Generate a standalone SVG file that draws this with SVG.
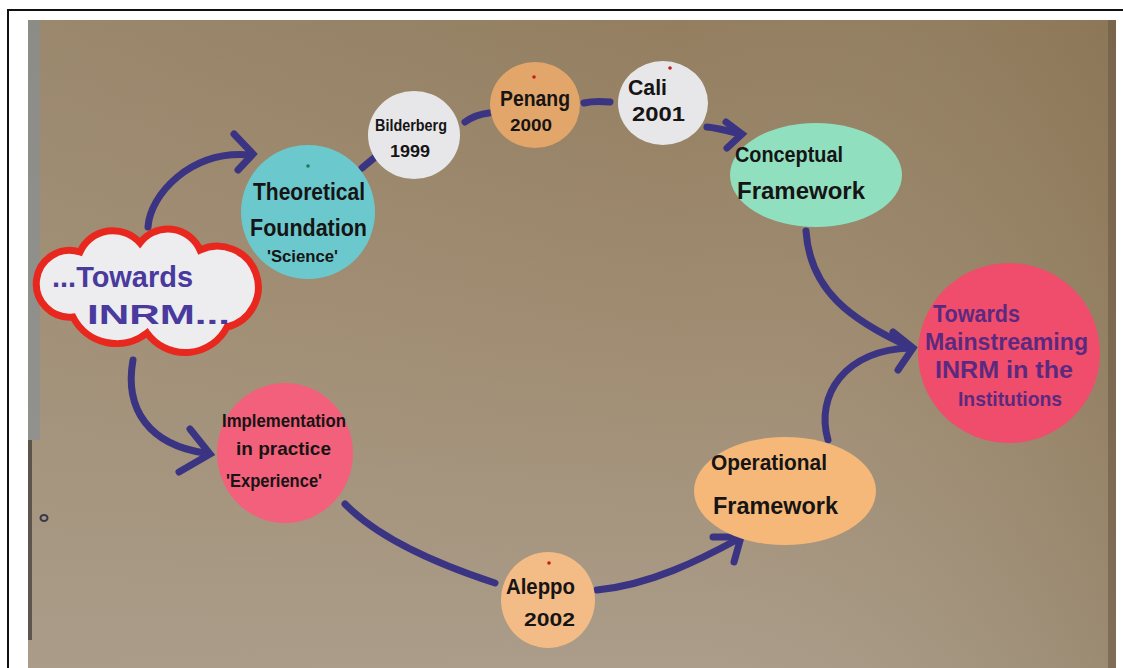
<svg xmlns="http://www.w3.org/2000/svg" width="1123" height="668" viewBox="0 0 1123 668">
  <defs>
    <style>
      .ink { font-family: "Liberation Sans", Arial, sans-serif; font-weight: bold; fill: #161414; }
      .blue { font-family: "Liberation Sans", Arial, sans-serif; font-weight: bold; fill: #4a3a9e; }
      .purple { font-family: "Liberation Sans", Arial, sans-serif; font-weight: bold; fill: #5b2a80; }
      .edge { fill: none; stroke: #3b3482; stroke-width: 7; stroke-linecap: round; stroke-linejoin: round; }
      .head { fill: none; stroke: #3b3482; stroke-width: 7; stroke-linecap: round; stroke-linejoin: miter; }
    </style>
    <linearGradient id="paper" x1="0" y1="0" x2="0" y2="1">
      <stop offset="0" stop-color="#937e60"/>
      <stop offset="0.45" stop-color="#9f8b70"/>
      <stop offset="1" stop-color="#ab9d8a"/>
    </linearGradient>
    <linearGradient id="paperSide" x1="0" y1="0" x2="1" y2="0">
      <stop offset="0" stop-color="#a89a86" stop-opacity="0.35"/>
      <stop offset="0.6" stop-color="#a89a86" stop-opacity="0"/>
      <stop offset="1" stop-color="#7d6845" stop-opacity="0.35"/>
    </linearGradient>
  </defs>

  <!-- page and frame -->
  <rect x="0" y="0" width="1123" height="668" fill="#ffffff"/>
  <path d="M8 668 V10 H1123" fill="none" stroke="#111111" stroke-width="2"/>

  <!-- kraft paper background -->
  <rect x="28" y="20" width="1088" height="648" fill="url(#paper)"/>
  <rect x="28" y="20" width="1088" height="648" fill="url(#paperSide)"/>
  <rect x="28" y="20" width="12" height="420" fill="#84909a" opacity="0.6"/>
  <rect x="28" y="440" width="4" height="200" fill="#2a2a2a" opacity="0.6"/>
  <rect x="1108" y="20" width="8" height="648" fill="#6e5a44" opacity="0.6"/>
  <ellipse cx="44" cy="518" rx="3.5" ry="3" fill="none" stroke="#3a3a4a" stroke-width="2"/>

  <!-- connectors -->
  <g id="connectors">
    <path class="edge" d="M148 227 C150 195 190 150 250 155"/>
    <path class="head" d="M234 134 L253 154 L238 170"/>
    <path class="edge" d="M133 360 C124 410 150 445 205 453"/>
    <path class="head" d="M190 429 L210 454 L179 472"/>
    <path class="edge" d="M362 168 L374 158"/>
    <path class="edge" d="M465 122 C472 117 480 114 489 113"/>
    <path class="edge" d="M584 103 C592 101 600 101 610 102"/>
    <path class="edge" d="M707 127 C718 128 728 131 740 134"/>
    <path class="head" d="M726 122 L742 134 L727 148"/>
    <path class="edge" d="M806 231 C810 290 850 320 910 347"/>
    <path class="edge" d="M828 440 C815 395 845 350 910 348"/>
    <path class="head" d="M893 332 L913 348 L898 370"/>
    <path class="edge" d="M345 504 C380 540 440 565 495 583"/>
    <path class="edge" d="M597 590 C650 585 700 560 740 538"/>
    <path class="head" d="M713 537 L741 537 L734 562"/>
  </g>

  <!-- start cloud -->
  <g id="start">
    <path d="M80 252 A36 36 0 0 1 140 243 A35 35 0 0 1 200 250 A41 41 0 1 1 227 327 A47 47 0 0 1 147 333 A49 49 0 0 1 73 317 A33.4 33.4 0 1 1 80 252 Z" fill="#ededf0" stroke="#e8281e" stroke-width="7"/>
    <text class="blue" x="52" y="287" font-size="30" textLength="141" lengthAdjust="spacingAndGlyphs">...Towards</text>
    <text class="blue" x="87" y="324" font-size="28" textLength="143" lengthAdjust="spacingAndGlyphs">INRM...</text>
  </g>

  <!-- upper track -->
  <g id="theoretical">
    <ellipse cx="308" cy="212" rx="67" ry="67" fill="#6bc9ce"/>
    <circle cx="308" cy="166" r="1.8" fill="#1f7a55"/>
    <text class="ink" x="253" y="200" font-size="24" textLength="112" lengthAdjust="spacingAndGlyphs">Theoretical</text>
    <text class="ink" x="250" y="236" font-size="24" textLength="117" lengthAdjust="spacingAndGlyphs">Foundation</text>
    <text class="ink" x="267" y="262" font-size="16" textLength="71" lengthAdjust="spacingAndGlyphs">'Science'</text>
  </g>

  <g id="bilderberg">
    <ellipse cx="414" cy="135" rx="46" ry="44" fill="#e7e7e9"/>
    <text class="ink" x="375" y="131" font-size="17" textLength="72" lengthAdjust="spacingAndGlyphs">Bilderberg</text>
    <text class="ink" x="390" y="157" font-size="17" textLength="40" lengthAdjust="spacingAndGlyphs">1999</text>
  </g>

  <g id="penang">
    <ellipse cx="535" cy="105" rx="45" ry="43" fill="#e3a66a"/>
    <circle cx="534" cy="77" r="1.8" fill="#c0201a"/>
    <text class="ink" x="500" y="106" font-size="22" textLength="70" lengthAdjust="spacingAndGlyphs">Penang</text>
    <text class="ink" x="510" y="131" font-size="16" textLength="42" lengthAdjust="spacingAndGlyphs">2000</text>
  </g>

  <g id="cali">
    <ellipse cx="663" cy="103" rx="45" ry="42" fill="#e7e7e9"/>
    <circle cx="670" cy="68" r="1.8" fill="#c0201a"/>
    <text class="ink" x="628" y="95" font-size="22" textLength="39" lengthAdjust="spacingAndGlyphs">Cali</text>
    <text class="ink" x="632" y="121" font-size="20" textLength="53" lengthAdjust="spacingAndGlyphs">2001</text>
  </g>

  <g id="conceptual">
    <ellipse cx="816" cy="175" rx="86" ry="52" fill="#90e0c0"/>
    <text class="ink" x="735" y="162" font-size="22" textLength="108" lengthAdjust="spacingAndGlyphs">Conceptual</text>
    <text class="ink" x="737" y="199" font-size="24" textLength="128" lengthAdjust="spacingAndGlyphs">Framework</text>
  </g>

  <!-- goal -->
  <g id="mainstreaming">
    <ellipse cx="1009" cy="353" rx="91" ry="90" fill="#ef4d6b"/>
    <text class="purple" x="933" y="322" font-size="23" textLength="87" lengthAdjust="spacingAndGlyphs">Towards</text>
    <text class="purple" x="925" y="350" font-size="23" textLength="163" lengthAdjust="spacingAndGlyphs">Mainstreaming</text>
    <text class="purple" x="935" y="378" font-size="23" textLength="138" lengthAdjust="spacingAndGlyphs">INRM in the</text>
    <text class="purple" x="958" y="406" font-size="21" textLength="104" lengthAdjust="spacingAndGlyphs">Institutions</text>
  </g>

  <!-- lower track -->
  <g id="implementation">
    <ellipse cx="285" cy="453" rx="68" ry="70" fill="#f3607b"/>
    <text class="ink" x="222" y="427" font-size="19" textLength="124" lengthAdjust="spacingAndGlyphs">Implementation</text>
    <text class="ink" x="236" y="455" font-size="19" textLength="95" lengthAdjust="spacingAndGlyphs">in practice</text>
    <text class="ink" x="226" y="487" font-size="19" textLength="96" lengthAdjust="spacingAndGlyphs">'Experience'</text>
  </g>

  <g id="aleppo">
    <ellipse cx="548" cy="600" rx="47" ry="48" fill="#f3bb85"/>
    <circle cx="549" cy="563" r="1.8" fill="#c0201a"/>
    <text class="ink" x="506" y="594" font-size="22" textLength="69" lengthAdjust="spacingAndGlyphs">Aleppo</text>
    <text class="ink" x="524" y="626" font-size="18" textLength="51" lengthAdjust="spacingAndGlyphs">2002</text>
  </g>

  <g id="operational">
    <ellipse cx="785" cy="491" rx="91" ry="54" fill="#f5b879"/>
    <text class="ink" x="711" y="470" font-size="22" textLength="116" lengthAdjust="spacingAndGlyphs">Operational</text>
    <text class="ink" x="713" y="514" font-size="24" textLength="125" lengthAdjust="spacingAndGlyphs">Framework</text>
  </g>
</svg>
